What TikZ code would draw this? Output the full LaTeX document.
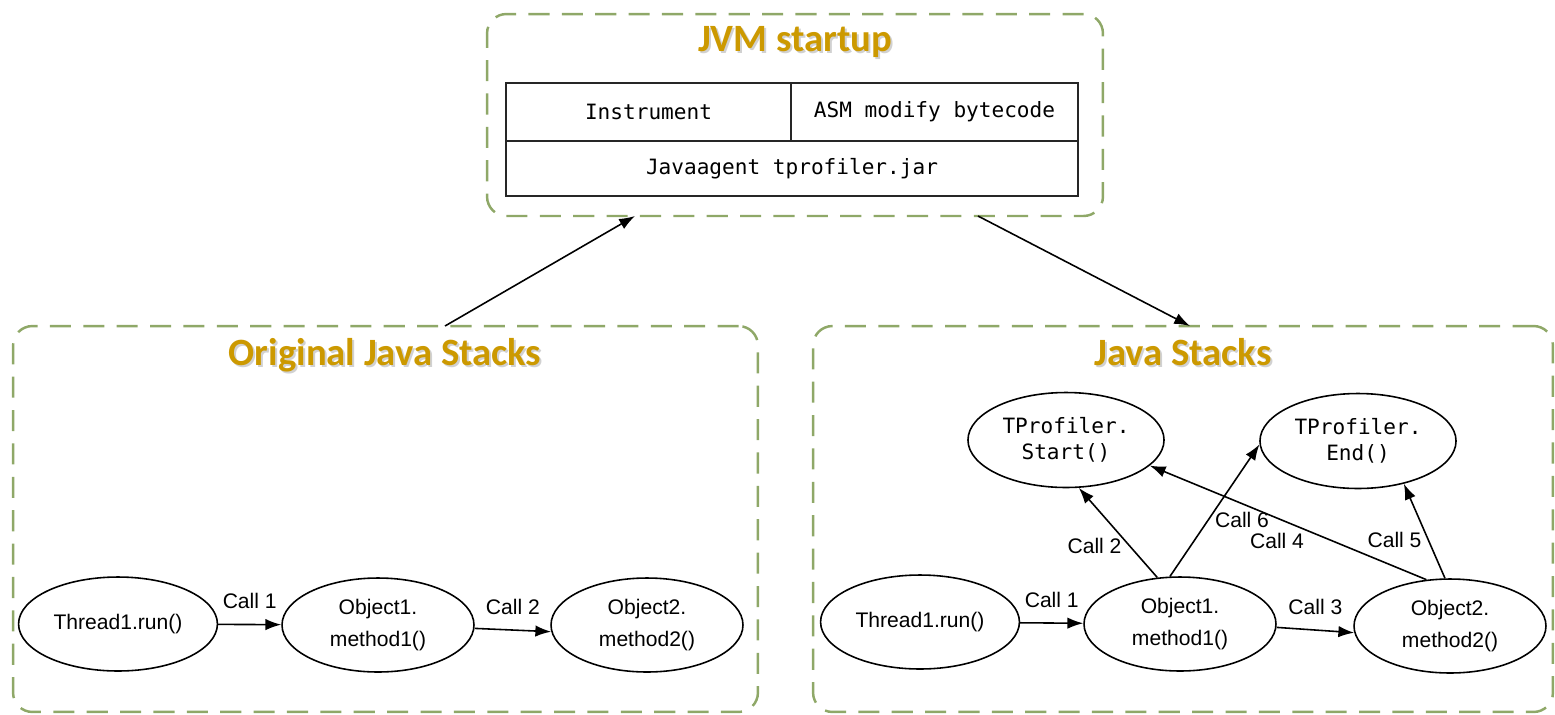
\documentclass[tikz,border=0pt]{standalone}
\usepackage{fontspec}
\setmainfont{Liberation Sans}
\newfontfamily\titlefont{Carlito}
\newfontfamily\codefont{DejaVu Sans Mono}
\usetikzlibrary{arrows.meta,shapes.geometric}
\definecolor{boxgreen}{RGB}{143,168,104}
\definecolor{titlegold}{RGB}{204,153,0}

\begin{document}
\begin{tikzpicture}[x=0.02cm, y=-0.02cm]

%STYLES
\tikzstyle{group}=[draw=boxgreen, line width=1.4pt, dash pattern=on 12pt off 7pt, rounded corners=11pt]
\tikzstyle{title}=[text=titlegold, font=\titlefont\bfseries\fontsize{22}{26}\selectfont]
\tikzstyle{titleshade}=[title, text=black!18]
\tikzstyle{cell}=[draw=black!85, line width=1pt, inner sep=0pt, font=\codefont\fontsize{12}{15}\selectfont]
\tikzstyle{call}=[ellipse, draw, line width=0.9pt, minimum width=3.84cm, minimum height=1.88cm, align=center, font=\fontsize{12}{18}\selectfont]
\tikzstyle{profiler}=[call, minimum width=3.86cm, minimum height=1.9cm, font=\codefont\fontsize{12}{15}\selectfont]
\tikzstyle{arrow}=[-{Latex[length=9pt,width=6.5pt]}, line width=0.9pt]
\tikzstyle{lbl}=[font=\fontsize{12}{14}\selectfont]

\useasboundingbox (0,0) rectangle (1555,714);

%GROUPS
\node[group, minimum width=12.32cm, minimum height=4.04cm] (jvm) at (795,115) {};
\node[group, minimum width=14.9cm, minimum height=7.72cm] (orig) at (385.5,519) {};
\node[group, minimum width=14.8cm, minimum height=7.72cm] (stacks) at (1183,519) {};

\node[titleshade] (jvmshade) at (797,44) {JVM startup};
\node[title] (jvmtitle) at (795,42) {JVM startup};
\node[titleshade] (origshade) at (387,357) {Original Java Stacks};
\node[title] (origtitle) at (385,355) {Original Java Stacks};
\node[titleshade] (stacksshade) at (1185,354) {Java Stacks};
\node[title] (stackstitle) at (1183,352) {Java Stacks};

%JVM TABLE
\node[cell, minimum width=5.7cm, minimum height=1.16cm] (instr) at (648.5,112) {Instrument};
\node[cell, minimum width=5.74cm, minimum height=1.16cm] (asm) at (934.5,112) {ASM modify bytecode};
\node[cell, minimum width=11.44cm, minimum height=1.1cm] (agent) at (792,168.5) {Javaagent tprofiler.jar};

%ORIGINAL STACKS
\node[call] (thread) at (118,624) {Thread1.run()};
\node[call] (obj1) at (378,625) {Object1.\\method1()};
\node[call] (obj2) at (647,625) {Object2.\\method2()};

\draw[arrow] (thread) -- (obj1) node[lbl, midway, above=5pt] {Call 1};
\draw[arrow] (obj1.-2) -- (obj2.-176) node[lbl, midway, above=5pt] {Call 2};

%PROFILED STACKS
\node[call] (thread2) at (920,622) {Thread1.run()};
\node[call] (obj1b) at (1180,624) {Object1.\\method1()};
\node[call] (obj2b) at (1450,626) {Object2.\\method2()};
\node[profiler] (start) at (1066,440) {TProfiler.\\Start()};
\node[profiler] (end) at (1358,441) {TProfiler.\\End()};

\draw[arrow] (thread2) -- (obj1b) node[lbl, midway, above=5pt] {Call 1};
\draw[arrow] (obj1b.116) -- (start.-75) node[lbl, pos=0.35, left=1pt] {Call 2};
\draw[arrow] (obj1b.-2) -- (obj2b.-176) node[lbl, midway, above=5pt] {Call 3};
\draw[arrow] (obj2b.117) -- (start.-17) node[lbl, pos=0.54, below=5pt] {Call 4};
\draw[arrow] (obj2b.96) -- (end.-43) node[lbl, pos=0.41, left=0pt] {Call 5};
\draw[arrow] (obj1b.102) -- (end.-178) node[lbl, pos=0.43, right=0pt] {Call 6};

%BETWEEN GROUPS
\coordinate (origout) at (445,326);
\coordinate (jvmin) at (635,216);
\coordinate (jvmout) at (978,216);
\coordinate (stacksin) at (1190,326);
\draw[arrow] (origout) -- (jvmin);
\draw[arrow] (jvmout) -- (stacksin);

\end{tikzpicture}
\end{document}
